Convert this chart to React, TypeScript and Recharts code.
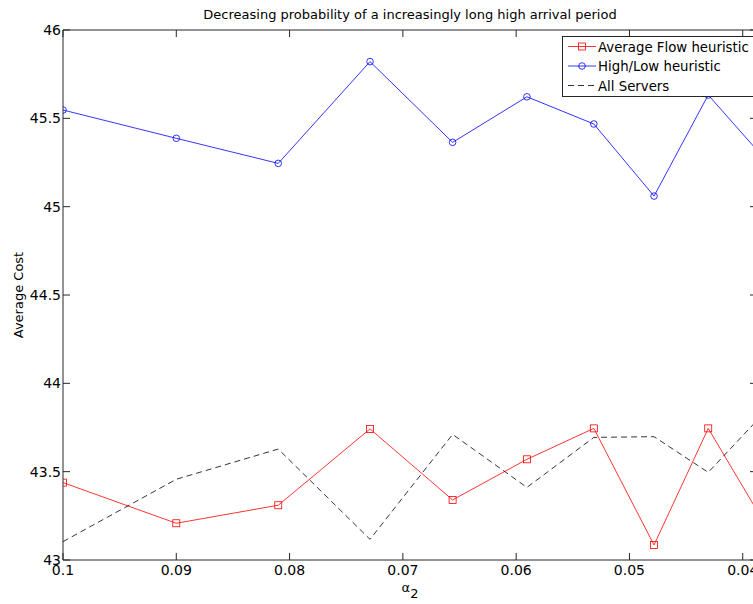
import { LineChart, Line, XAxis, YAxis, Legend, Label } from 'recharts'

// alpha_2 values (x) and the three cost series
const alphas = [0.1, 0.09, 0.081, 0.0729, 0.06561, 0.059049, 0.0531441, 0.04782969, 0.043046721, 0.0387420489]
const avgFlow = [43.438, 43.208, 43.31, 43.742, 43.34, 43.57, 43.745, 43.085, 43.745, 43.28]
const highLow = [45.547, 45.387, 45.245, 45.821, 45.364, 45.622, 45.468, 45.06, 45.632, 45.32]
const allServers = [43.104, 43.457, 43.628, 43.117, 43.711, 43.411, 43.694, 43.698, 43.496, 43.79]

const xTicks = [0.1, 0.09, 0.08, 0.07, 0.06, 0.05, 0.04]
const yTicks = [43, 43.5, 44, 44.5, 45, 45.5, 46]

const data = alphas.map((a, i) => ({
  alpha: a,
  avgFlow: avgFlow[i],
  highLow: highLow[i],
  allServers: allServers[i],
}))

const FONT = '"DejaVu Sans", Verdana, sans-serif'
const FS = 13
const TICK_FS = 14
const AXIS = '#262626'
const RED = '#ff0000'
const BLUE = '#0000ff'
const BLACK = '#000000'
const LW = 0.8

const series = [
  { key: 'avgFlow', name: 'Average Flow heuristic', color: RED, marker: 'square' },
  { key: 'highLow', name: 'High/Low heuristic', color: BLUE, marker: 'circle' },
  { key: 'allServers', name: 'All Servers', color: BLACK, marker: 'none' },
]

function renderSquare(props: any) {
  const { cx, cy, index } = props
  return <rect key={`sq-${index}`} x={cx - 3.5} y={cy - 3.5} width={7} height={7} fill="none" stroke={RED} strokeWidth={LW} />
}

function Title({ viewBox }: any) {
  const { x, width } = viewBox
  return (
    <text x={x + width / 2} y={19} textAnchor="middle" fontSize={FS} fontFamily={FONT} fill="#000">
      Decreasing probability of a increasingly long high arrival period
    </text>
  )
}

function XTitle({ viewBox }: any) {
  const { x, y, width } = viewBox
  return (
    <text x={x + width / 2} y={y + 32} textAnchor="middle" fontSize={FS} fontFamily={FONT} fill="#000">
      <tspan>α</tspan>
      <tspan dy={6}>2</tspan>
    </text>
  )
}

function YTitle({ viewBox }: any) {
  const { y, height } = viewBox
  const cx = 23
  const cy = y + height / 2
  return (
    <text x={cx} y={cy} transform={`rotate(-90 ${cx} ${cy})`} textAnchor="middle" fontSize={FS} fontFamily={FONT} fill="#000">
      Average Cost
    </text>
  )
}

function LegendBox() {
  return (
    <div style={{ width: 196, height: 61, border: `1px solid ${AXIS}`, background: '#fff', boxSizing: 'border-box' }}>
      <svg width={194} height={59} style={{ display: 'block' }}>
        {series.map((s, i) => {
          const cy = 9.5 + i * 19.5
          return (
            <g key={s.key}>
              <line x1={5} x2={33} y1={cy} y2={cy} stroke={s.color} strokeWidth={LW} strokeDasharray={s.marker === 'none' ? '6 4' : undefined} />
              {s.marker === 'square' && <rect x={15.5} y={cy - 3.5} width={7} height={7} fill="none" stroke={s.color} strokeWidth={LW} />}
              {s.marker === 'circle' && <circle cx={19} cy={cy} r={3.3} fill="none" stroke={s.color} strokeWidth={LW} />}
              <text x={35} y={cy + 5} fontSize={13.3} fontFamily={FONT} fill="#000">{s.name}</text>
            </g>
          )
        })}
      </svg>
    </div>
  )
}

export default function App() {
  return (
    <div style={{ position: 'fixed', left: 0, top: 0, width: 753, height: 604, overflow: 'hidden', background: '#fff' }}>
      <LineChart width={800} height={604} data={data} margin={{ top: 29, right: 42, bottom: 0, left: 0 }}>
        <XAxis
          dataKey="alpha"
          type="number"
          domain={[0.0387420489, 0.1]}
          reversed
          allowDataOverflow
          ticks={xTicks}
          interval={0}
          height={44}
          tickSize={-7}
          tickMargin={12}
          axisLine={{ stroke: AXIS }}
          tickLine={{ stroke: AXIS }}
          tick={{ fill: '#000', fontSize: TICK_FS, fontFamily: FONT }}
        >
          <Label content={XTitle} />
        </XAxis>
        <XAxis
          xAxisId="top"
          orientation="top"
          dataKey="alpha"
          type="number"
          domain={[0.0387420489, 0.1]}
          reversed
          allowDataOverflow
          ticks={xTicks}
          interval={0}
          height={1}
          tickSize={-7}
          tickFormatter={() => ''}
          axisLine={{ stroke: AXIS }}
          tickLine={{ stroke: AXIS }}
        >
          <Label content={Title} />
        </XAxis>
        <YAxis
          type="number"
          domain={[43, 46]}
          allowDataOverflow
          ticks={yTicks}
          interval={0}
          width={63}
          tickSize={-7}
          tickMargin={9}
          axisLine={{ stroke: AXIS }}
          tickLine={{ stroke: AXIS }}
          tick={{ fill: '#000', fontSize: TICK_FS, fontFamily: FONT }}
        >
          <Label content={YTitle} />
        </YAxis>
        <YAxis
          yAxisId="right"
          orientation="right"
          type="number"
          domain={[43, 46]}
          allowDataOverflow
          ticks={yTicks}
          interval={0}
          width={1}
          tickSize={-7}
          tickFormatter={() => ''}
          axisLine={{ stroke: AXIS }}
          tickLine={{ stroke: AXIS }}
        />
        <Legend
          layout="horizontal"
          verticalAlign="middle"
          align="center"
          content={LegendBox}
          wrapperStyle={{ left: 562, top: 36, width: 196, height: 61 }}
        />
        <Line type="linear" dataKey="avgFlow" name="Average Flow heuristic" stroke={RED} strokeWidth={LW} dot={renderSquare} activeDot={false} isAnimationActive={false} />
        <Line type="linear" dataKey="highLow" name="High/Low heuristic" stroke={BLUE} strokeWidth={LW} dot={{ r: 3.3, fill: 'none', stroke: BLUE, strokeWidth: LW }} activeDot={false} isAnimationActive={false} />
        <Line type="linear" dataKey="allServers" xAxisId="top" yAxisId="right" name="All Servers" stroke={BLACK} strokeWidth={LW} strokeDasharray="6 4" dot={false} activeDot={false} isAnimationActive={false} />
      </LineChart>
    </div>
  )
}
